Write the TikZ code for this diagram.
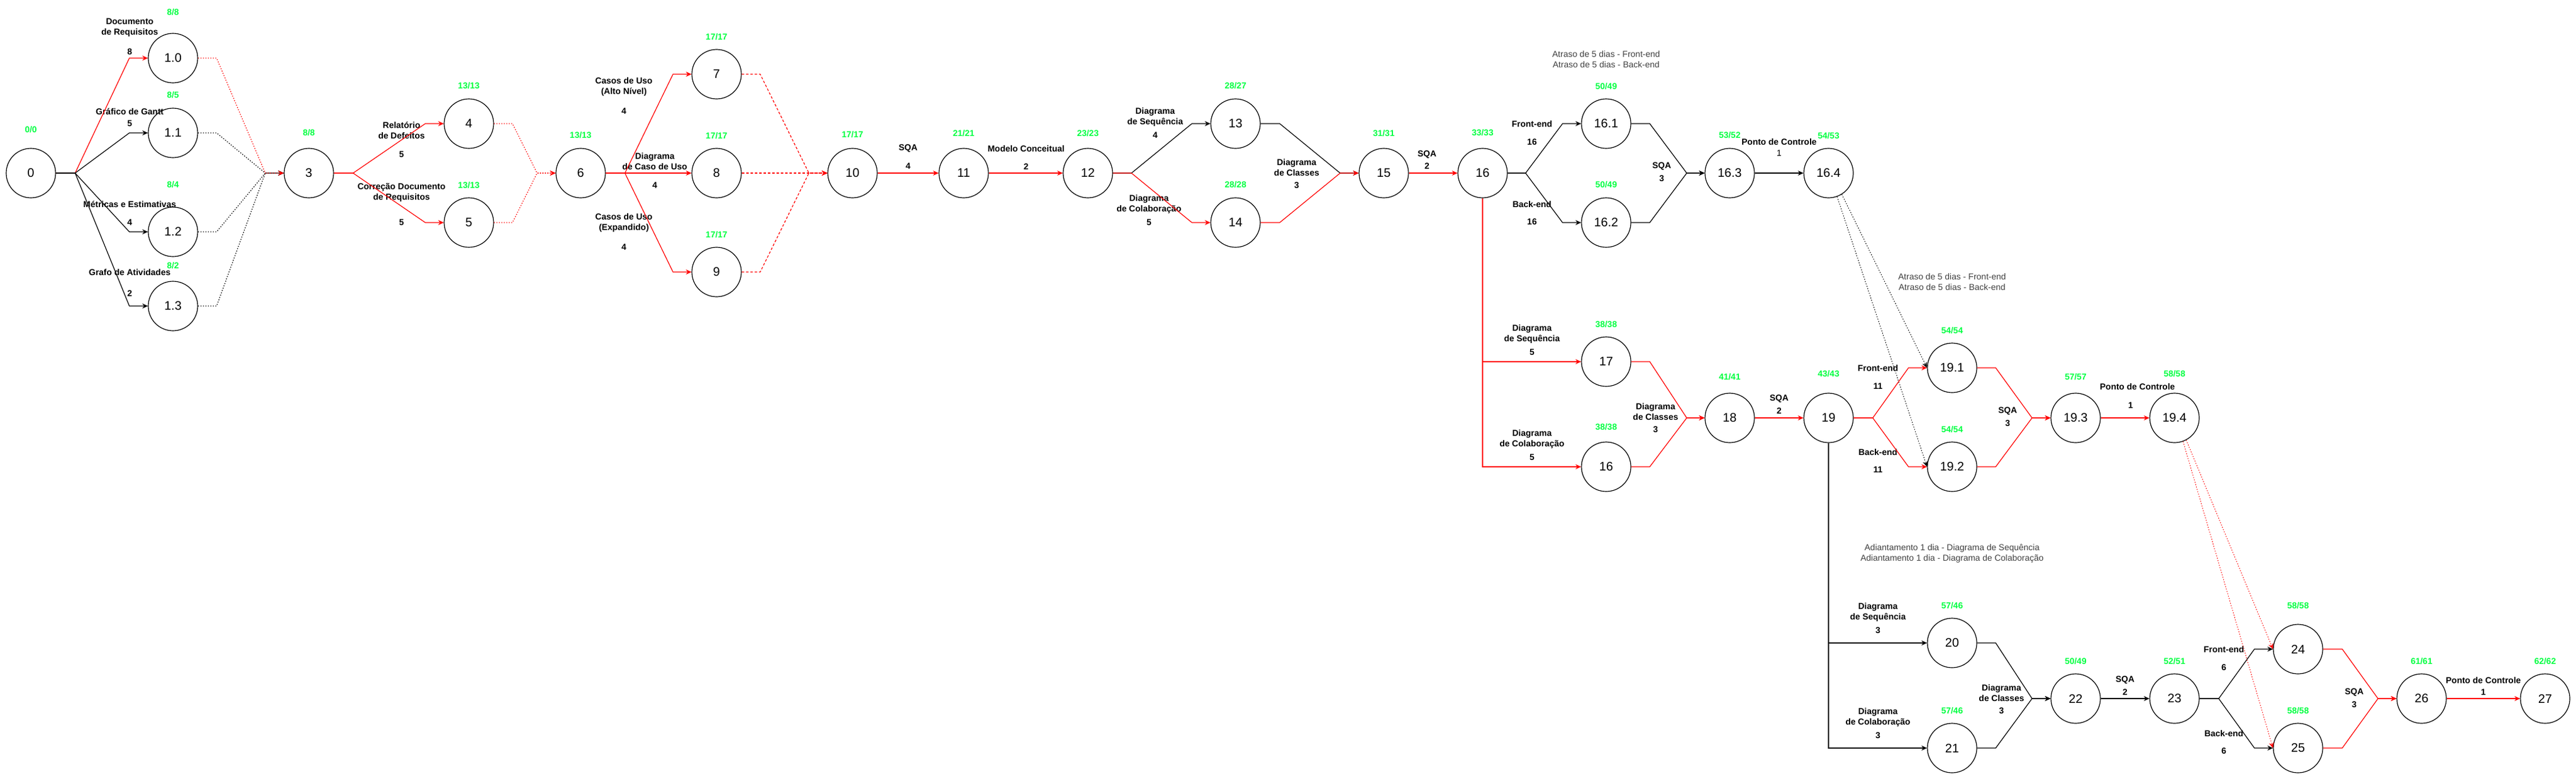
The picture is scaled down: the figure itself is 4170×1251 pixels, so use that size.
\documentclass[tikz,border=0pt]{standalone}
\usepackage{fontspec}
\setmainfont{Liberation Sans}
\usetikzlibrary{arrows.meta}
\definecolor{verde}{RGB}{0,255,64}
\definecolor{nota}{RGB}{64,64,64}
\tikzset{
  pontilhado/.style={dash pattern=on 1.5pt off 2.5pt},
  tracejado/.style={dash pattern=on 4pt off 3pt},
}
\begin{document}
\begin{tikzpicture}[x=1pt,y=-1pt,line width=1.2pt,>={Stealth[length=9pt,width=8pt]}]
        \useasboundingbox (0,0) rectangle (4170,1251);

        \begin{scope}[every node/.style={circle,draw,minimum size=80,inner sep=0pt,font=\fontsize{20}{24}\selectfont}]
          \node (0)    at (50,280)   {0};
          \node (1-0)  at (280,94)   {1.0};
          \node (1-1)  at (280,215)  {1.1};
          \node (1-2)  at (280,375)  {1.2};
          \node (1-3)  at (280,495)  {1.3};
          \node (3)    at (500,280)  {3};
          \node (4)    at (759,200)  {4};
          \node (5)    at (759,360)  {5};
          \node (6)    at (940,280)  {6};
          \node (7)    at (1160,120) {7};
          \node (8)    at (1160,280) {8};
          \node (9)    at (1160,440) {9};
          \node (10)   at (1380,280) {10};
          \node (11)   at (1560,280) {11};
          \node (12)   at (1761,280) {12};
          \node (13)   at (2000,200) {13};
          \node (14)   at (2000,360) {14};
          \node (15)   at (2240,280) {15};
          \node (16)   at (2400,280) {16};
          \node (16-1) at (2600,200) {16.1};
          \node (16-2) at (2600,360) {16.2};
          \node (16-3) at (2800,280) {16.3};
          \node (16-4) at (2960,280) {16.4};
          \node (17)   at (2600,585) {17};
          \node (16b)  at (2600,755) {16};
          \node (18)   at (2800,676) {18};
          \node (19)   at (2960,676) {19};
          \node (19-1) at (3160,595) {19.1};
          \node (19-2) at (3160,755) {19.2};
          \node (19-3) at (3360,676) {19.3};
          \node (19-4) at (3520,676) {19.4};
          \node (20)   at (3160,1040) {20};
          \node (21)   at (3160,1210) {21};
          \node (22)   at (3360,1130) {22};
          \node (23)   at (3520,1130) {23};
          \node (24)   at (3720,1050) {24};
          \node (25)   at (3720,1210) {25};
          \node (26)   at (3920,1130) {26};
          \node (27)   at (4120,1130) {27};
        \end{scope}

        % folgas (verde)
        \begin{scope}[every node/.style={text=verde,inner sep=0pt,font=\bfseries\fontsize{14}{17}\selectfont}]
          \node (f0)    at (50,210)   {0/0};
          \node (f1-0)  at (280,20)   {8/8};
          \node (f1-1)  at (280,154)  {8/5};
          \node (f1-2)  at (280,299)  {8/4};
          \node (f1-3)  at (280,430)  {8/2};
          \node (f3)    at (500,215)  {8/8};
          \node (f4)    at (759,139)  {13/13};
          \node (f5)    at (759,300)  {13/13};
          \node (f6)    at (940,219)  {13/13};
          \node (f7)    at (1160,60)  {17/17};
          \node (f8)    at (1160,220) {17/17};
          \node (f9)    at (1160,380) {17/17};
          \node (f10)   at (1380,218) {17/17};
          \node (f11)   at (1560,216) {21/21};
          \node (f12)   at (1761,216) {23/23};
          \node (f13)   at (2000,139) {28/27};
          \node (f14)   at (2000,299) {28/28};
          \node (f15)   at (2240,216) {31/31};
          \node (f16)   at (2400,215) {33/33};
          \node (f16-1) at (2600,140) {50/49};
          \node (f16-2) at (2600,299) {50/49};
          \node (f16-3) at (2800,219) {53/52};
          \node (f16-4) at (2960,220) {54/53};
          \node (f17)   at (2600,525) {38/38};
          \node (f16b)  at (2600,691) {38/38};
          \node (f18)   at (2800,610) {41/41};
          \node (f19)   at (2960,605) {43/43};
          \node (f19-1) at (3160,535) {54/54};
          \node (f19-2) at (3160,695) {54/54};
          \node (f19-3) at (3360,610) {57/57};
          \node (f19-4) at (3520,605) {58/58};
          \node (f20)   at (3160,980) {57/46};
          \node (f21)   at (3160,1150) {57/46};
          \node (f22)   at (3360,1070) {50/49};
          \node (f23)   at (3520,1070) {52/51};
          \node (f24)   at (3720,980) {58/58};
          \node (f25)   at (3720,1150) {58/58};
          \node (f26)   at (3920,1070) {61/61};
          \node (f27)   at (4120,1070) {62/62};
        \end{scope}

        % atividades e duracoes
        \begin{scope}[every node/.style={align=center,inner sep=0pt,font=\bfseries\fontsize{14}{17}\selectfont}]
          \node (t1)  at (210,44.5)  {Documento\\de Requisitos};
          \node (d1)  at (210,84)    {8};
          \node (t2)  at (210,180)   {Gráfico de Gantt};
          \node (d2)  at (210,200)   {5};
          \node (t3)  at (210,330)   {Métricas e Estimativas};
          \node (d3)  at (210,360)   {4};
          \node (t4)  at (210,440)   {Grafo de Atividades};
          \node (d4)  at (210,475)   {2};
          \node (t5)  at (650,210.5) {Relatório\\de Defeitos};
          \node (d5)  at (650,250)   {5};
          \node (t6)  at (650,311.5) {Correção Documento\\de Requisitos};
          \node (d6)  at (650,360)   {5};
          \node (t7)  at (1010,140.5) {Casos de Uso\\(Alto Nível)};
          \node (d7)  at (1010,180)  {4};
          \node (t8)  at (1060,260.5) {Diagrama\\de Caso de Uso};
          \node (d8)  at (1060,300)  {4};
          \node (t9)  at (1010,360.5) {Casos de Uso\\(Expandido)};
          \node (d9)  at (1010,400)  {4};
          \node (t10) at (1470,240)  {SQA};
          \node (d10) at (1470,269)  {4};
          \node (t11) at (1661,240)  {Modelo Conceitual};
          \node (d11) at (1661,270)  {2};
          \node (t12) at (1870,189.5) {Diagrama\\de Sequência};
          \node (d12) at (1870,219)  {4};
          \node (t13) at (1860,330.5) {Diagrama\\de Colaboração};
          \node (d13) at (1860,360)  {5};
          \node (t14) at (2099,270.5) {Diagrama\\de Classes};
          \node (d14) at (2099,300)  {3};
          \node (t15) at (2310,250)  {SQA};
          \node (d15) at (2310,269)  {2};
          \node (t16) at (2480,200)  {Front-end};
          \node (d16) at (2480,230)  {16};
          \node (t17) at (2480,330)  {Back-end};
          \node (d17) at (2480,359)  {16};
          \node (t18) at (2690,269)  {SQA};
          \node (d18) at (2690,289)  {3};
          \node (t19) at (2880,229)  {Ponto de Controle};
          \node[font=\fontsize{14}{17}\selectfont] (d19) at (2880,248) {1};
          \node (t20) at (2480,540.5) {Diagrama\\de Sequência};
          \node (d20) at (2480,570)  {5};
          \node (t21) at (2480,710.5) {Diagrama\\de Colaboração};
          \node (d21) at (2480,740)  {5};
          \node (t22) at (2680,665.5) {Diagrama\\de Classes};
          \node (d22) at (2680,695)  {3};
          \node (t23) at (2880,645)  {SQA};
          \node (d23) at (2880,665)  {2};
          \node (t24) at (3040,595)  {Front-end};
          \node (d24) at (3040,625)  {11};
          \node (t25) at (3040,731)  {Back-end};
          \node (d25) at (3040,760)  {11};
          \node (t26) at (3250,665)  {SQA};
          \node (d26) at (3250,685)  {3};
          \node (t27) at (3460,625)  {Ponto de Controle};
          \node (d27) at (3449,656)  {1};
          \node (t28) at (3040,990.5) {Diagrama\\de Sequência};
          \node (d28) at (3040,1020) {3};
          \node (t29) at (3040,1160.5) {Diagrama\\de Colaboração};
          \node (d29) at (3040,1190) {3};
          \node (t30) at (3240,1120.5) {Diagrama\\de Classes};
          \node (d30) at (3240,1150) {3};
          \node (t31) at (3440,1100) {SQA};
          \node (d31) at (3440,1120) {2};
          \node (t32) at (3600,1050) {Front-end};
          \node (d32) at (3600,1080) {6};
          \node (t33) at (3600,1186) {Back-end};
          \node (d33) at (3600,1215) {6};
          \node (t34) at (3811,1120) {SQA};
          \node (d34) at (3811,1140) {3};
          \node (t35) at (4020,1100) {Ponto de Controle};
          \node (d35) at (4020,1120) {1};
        \end{scope}

        % notas
        \begin{scope}[every node/.style={align=center,inner sep=0pt,text=nota,font=\fontsize{14}{17}\selectfont}]
          \node (atraso1) at (2600,95.5)  {Atraso de 5 dias - Front-end\\Atraso de 5 dias - Back-end};
          \node (atraso2) at (3160,455.5) {Atraso de 5 dias - Front-end\\Atraso de 5 dias - Back-end};
          \node (adianta) at (3160,895.5) {Adiantamento 1 dia - Diagrama de Sequência\\Adiantamento 1 dia - Diagrama de Colaboração};
        \end{scope}

        % ligacoes
        \draw[red,->] (0.east) -- ++(31,0) -- ([xshift=-30]1-0.west) -- (1-0.west);
        \draw[->] (0.east) -- ++(31,0) -- ([xshift=-30]1-1.west) -- (1-1.west);
        \draw[->] (0.east) -- ++(31,0) -- ([xshift=-30]1-2.west) -- (1-2.west);
        \draw[->] (0.east) -- ++(31,0) -- ([xshift=-30]1-3.west) -- (1-3.west);
        \draw[->,pontilhado] (1-1.east) -- ++(30,0) -- ([xshift=-30]3.west) -- (3.west);
        \draw[->,pontilhado] (1-2.east) -- ++(30,0) -- ([xshift=-30]3.west) -- (3.west);
        \draw[->,pontilhado] (1-3.east) -- ++(30,0) -- ([xshift=-30]3.west) -- (3.west);
        \draw[red,->,pontilhado] (1-0.east) -- ++(30,0) -- ([xshift=-30]3.west) -- (3.west);

        \draw[red,->] (3.east) -- ++(31,0) -- ([xshift=-30]4.west) -- (4.west);
        \draw[red,->] (3.east) -- ++(31,0) -- ([xshift=-30]5.west) -- (5.west);
        \draw[red,->,pontilhado] (4.east) -- ++(30,0) -- ([xshift=-30]6.west) -- (6.west);
        \draw[red,->,pontilhado] (5.east) -- ++(30,0) -- ([xshift=-30]6.west) -- (6.west);

        \draw[red,->] (6.east) -- ++(31,0) -- ([xshift=-30]7.west) -- (7.west);
        \draw[red,->] (6) -- (8);
        \draw[red,->] (6.east) -- ++(31,0) -- ([xshift=-30]9.west) -- (9.west);
        \draw[red,->,tracejado] (7.east) -- ++(30,0) -- ([xshift=-30]10.west) -- (10.west);
        \draw[red,->,tracejado] (8) -- (10);
        \draw[red,->,tracejado] (9.east) -- ++(30,0) -- ([xshift=-30]10.west) -- (10.west);

        \draw[red,->] (10) -- (11);
        \draw[red,->] (11) -- (12);
        \draw[->] (12.east) -- ++(30,0) -- ([xshift=-30]13.west) -- (13.west);
        \draw[red,->] (12.east) -- ++(30,0) -- ([xshift=-30]14.west) -- (14.west);
        \draw[->] (13.east) -- ++(31,0) -- ([xshift=-30]15.west) -- (15.west);
        \draw[red,->] (14.east) -- ++(31,0) -- ([xshift=-30]15.west) -- (15.west);
        \draw[red,->] (15) -- (16);

        \draw[->] (16.east) -- ++(29,0) -- ([xshift=-30]16-1.west) -- (16-1.west);
        \draw[->] (16.east) -- ++(29,0) -- ([xshift=-30]16-2.west) -- (16-2.west);
        \draw[->] (16-1.east) -- ++(30,0) -- ([xshift=-29]16-3.west) -- (16-3.west);
        \draw[->] (16-2.east) -- ++(30,0) -- ([xshift=-29]16-3.west) -- (16-3.west);
        \draw[->] (16-3) -- (16-4);

        \draw[red,->] (16.south) |- (17.west);
        \draw[red,->] (16.south) |- (16b.west);
        \draw[red,->] (17.east) -- ++(30,0) -- ([xshift=-29]18.west) -- (18.west);
        \draw[red,->] (16b.east) -- ++(30,0) -- ([xshift=-29]18.west) -- (18.west);
        \draw[red,->] (18) -- (19);

        \draw[red,->] (19.east) -- ++(31,0) -- ([xshift=-30]19-1.west) -- (19-1.west);
        \draw[red,->] (19.east) -- ++(31,0) -- ([xshift=-30]19-2.west) -- (19-2.west);
        \draw[red,->] (19-1.east) -- ++(30,0) -- ([xshift=-30]19-3.west) -- (19-3.west);
        \draw[red,->] (19-2.east) -- ++(30,0) -- ([xshift=-30]19-3.west) -- (19-3.west);
        \draw[red,->] (19-3) -- (19-4);
        \draw[->,pontilhado,line width=1pt] (16-4.-58) -- (19-1.west);
        \draw[->,pontilhado,line width=1pt] (16-4.-70) -- (19-2.west);

        \draw[->] (19.south) |- (20.west);
        \draw[->] (19.south) |- (21.west);
        \draw[->] (20.east) -- ++(30,0) -- ([xshift=-30]22.west) -- (22.west);
        \draw[->] (21.east) -- ++(30,0) -- ([xshift=-30]22.west) -- (22.west);
        \draw[->] (22) -- (23);

        \draw[->] (23.east) -- ++(31,0) -- ([xshift=-30]24.west) -- (24.west);
        \draw[->] (23.east) -- ++(31,0) -- ([xshift=-30]25.west) -- (25.west);
        \draw[red,->] (24.east) -- ++(31,0) -- ([xshift=-30]26.west) -- (26.west);
        \draw[red,->] (25.east) -- ++(31,0) -- ([xshift=-30]26.west) -- (26.west);
        \draw[red,->] (26) -- (27);
        \draw[red,->,pontilhado,line width=1pt] (19-4.-62) -- (24.west);
        \draw[red,->,pontilhado,line width=1pt] (19-4.-70) -- (25.west);

      \end{tikzpicture}
\end{document}
